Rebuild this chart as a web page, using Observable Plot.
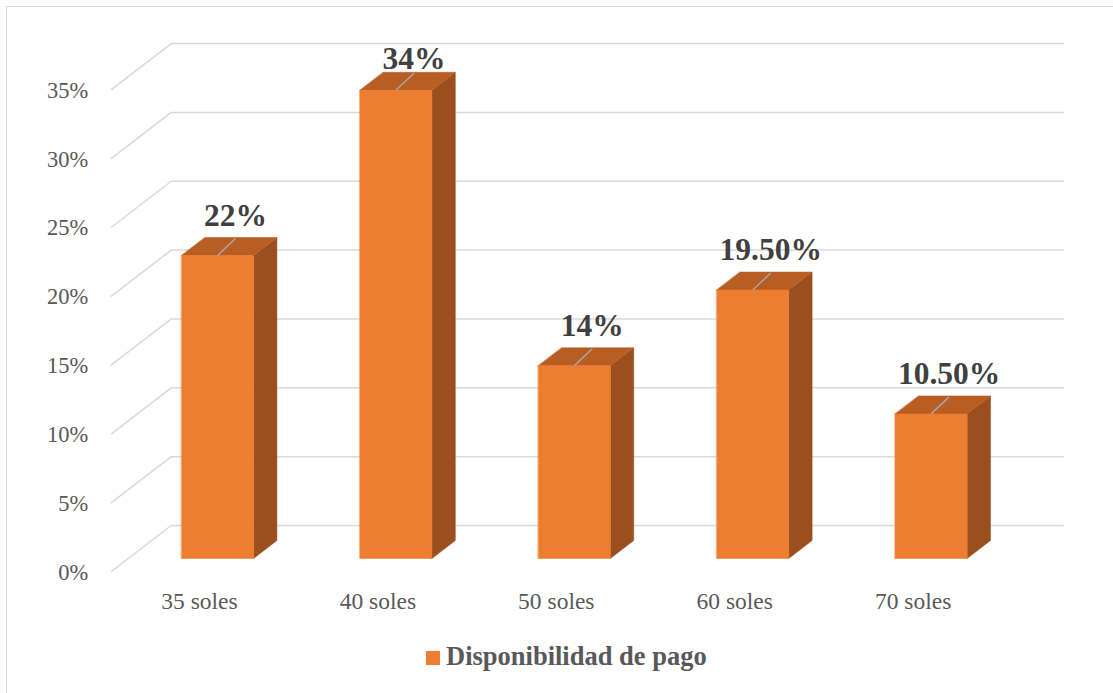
<!DOCTYPE html>
<html>
<head>
<meta charset="utf-8">
<script src="https://cdn.jsdelivr.net/npm/d3@7"></script>
<script src="https://cdn.jsdelivr.net/npm/@observablehq/plot@0.6"></script>
<style>
  html, body { margin: 0; padding: 0; background: #fff; }
  #frame { position: absolute; left: 6px; top: 6px; width: 1200px; height: 800px;
           border-left: 1.5px solid #D9D9D9; border-top: 1.5px solid #D9D9D9; }
  #chart { position: absolute; left: 0; top: 0; }
  #legend { position: absolute; left: 426px; top: 641px; display: flex; align-items: center;
            font-family: "Liberation Serif", "Times New Roman", serif; font-weight: bold;
            font-size: 26.5px; color: #595959; }
  #legend .sw { width: 14px; height: 14px; background: #ED7D31; margin-right: 6px; margin-top: 3px; }
</style>
</head>
<body>
<div id="frame"></div>
<div id="chart"></div>
<div id="legend"><div class="sw"></div><span id="legtext"></span></div>
<script>
// ---- data ----
const categories = ["35 soles", "40 soles", "50 soles", "60 soles", "70 soles"];
const values = [22, 34, 14, 19.5, 10.5];
const valueLabels = ["22%", "34%", "14%", "19.50%", "10.50%"];
const yTicks = [0, 5, 10, 15, 20, 25, 30, 35];
const seriesName = "Disponibilidad de pago";

document.getElementById("legtext").textContent = seriesName;

// ---- geometry (pixels) ----
const W = 1113, H = 620;
const xRange = [127.8, 1019.8];     // category -0.5 .. 4.5
const yRange = [558, 76.05];        // 0 .. 35 %
const kx = (xRange[1] - xRange[0]) / 5;   // px per category
const ky = (yRange[0] - yRange[1]) / 35;  // px per percent
const slope = 1.3;                  // x px per y px of depth
const barW = 0.404;                 // in category units
const barDepth = 18;                // px
const wallFront = -13, wallBack = 33;

// offset a data point by depth d (in y pixels)
const P = (x, y, d) => ({x: x + slope * d / kx, y: y + d / ky});

// gridlines
const grid = [];
yTicks.forEach(t => {
  [P(-0.5, t, wallFront), P(-0.5, t, wallBack), P(4.5, t, wallBack)]
    .forEach(p => grid.push({...p, t}));
});

// bar faces
const faces = [];
values.forEach((v, i) => {
  const x0 = i - barW / 2, x1 = i + barW / 2;
  const front = [P(x0, 0, 0), P(x1, 0, 0), P(x1, v, 0), P(x0, v, 0)];
  const side = [P(x1, 0, 0), P(x1, 0, barDepth), P(x1, v, barDepth), P(x1, v, 0)];
  const top = [P(x0, v, 0), P(x1, v, 0), P(x1, v, barDepth), P(x0, v, barDepth)];
  [["side", side], ["top", top], ["front", front]].forEach(([f, pts]) => {
    pts.forEach(p => faces.push({...p, key: f + i, face: f}));
  });
});
const faceColor = {front: "#ED7D31", top: "#B95E22", side: "#9B4F1E"};

const labels = values.map((v, i) => ({i, v, label: valueLabels[i]}));
const leaders = values.map((v, i) => {
  const a = P(i, v, 0), b = P(i + 18 / kx - slope * 17 / kx, v, 17);
  return {x1: a.x, y1: a.y, x2: b.x, y2: b.y};
});

const serif = "Liberation Serif, Times New Roman, serif";
const plot = Plot.plot({
  width: W, height: H,
  marginLeft: 91, marginRight: 0, marginTop: 0, marginBottom: 62,
  x: {domain: [-0.5, 4.5], range: xRange, axis: null},
  y: {domain: [0, 35], range: yRange, axis: null},
  style: {background: "transparent", overflow: "visible"},
  marks: [
    Plot.line(grid, {x: "x", y: "y", z: "t", stroke: "#D9D9D9", strokeWidth: 1.5}),
    Plot.text(yTicks, {x: -0.5, y: d => d, text: d => d + "%", textAnchor: "end",
      dx: -40, dy: 14, fontSize: 22.5, fill: "#595959", fontFamily: serif}),
    ...["side", "top", "front"].map(f =>
      Plot.line(faces.filter(d => d.face === f), {x: "x", y: "y", z: "key",
        fill: faceColor[f], stroke: faceColor[f], strokeWidth: 0.5, curve: "linear-closed"})),
    Plot.link(leaders, {x1: "x1", y1: "y1", x2: "x2", y2: "y2", stroke: "#A6A6A6", strokeWidth: 1.5}),
    Plot.text(labels, {x: "i", y: d => Math.min(d.v, 33.4), text: "label", dx: 18, dy: -40,
      fontSize: 31.5, fontWeight: "bold", fill: "#404040", fontFamily: serif}),
    Plot.text(categories, {x: (d, i) => i, y: 0, text: d => d, dx: -18, dy: 43,
      fontSize: 23.5, fill: "#595959", fontFamily: serif})
  ]
});
document.getElementById("chart").append(plot);
</script>
</body>
</html>
